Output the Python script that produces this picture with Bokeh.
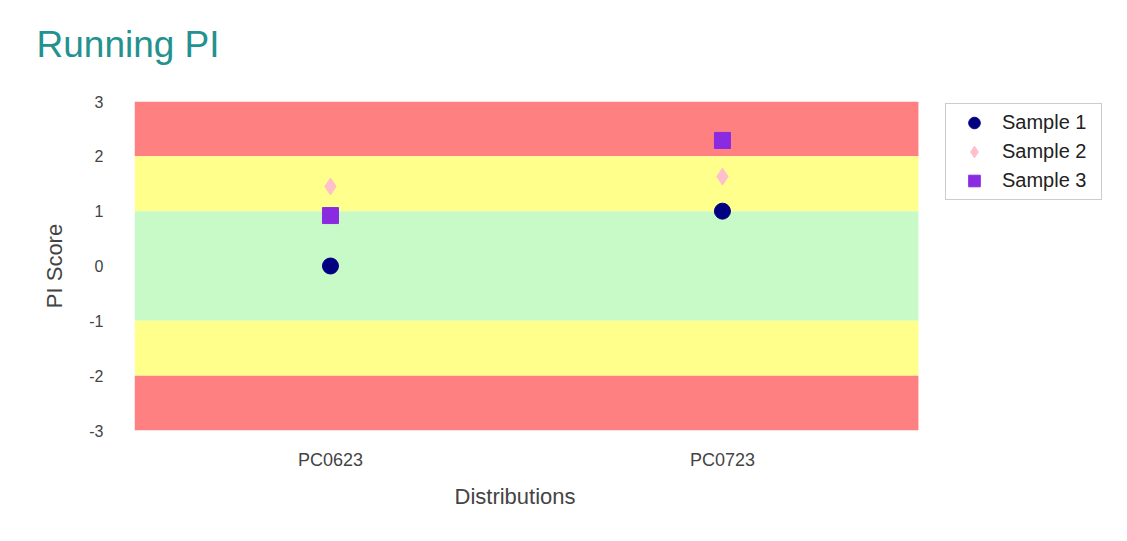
from bokeh.plotting import figure
from bokeh.models import (Range1d, BoxAnnotation, Legend, LegendItem,
                          FixedTicker, Title)
from bokeh.embed import file_html
from bokeh.resources import INLINE

# ---- data ----
distributions = ["PC0623", "PC0723"]
sample1 = [0.0, 1.0]
sample2 = [1.45, 1.63]
sample3 = [0.92, 2.29]
series_names = ["Sample 1", "Sample 2", "Sample 3"]
band_bottoms = [2, 1, -1, -2, -3]
band_tops = [3, 2, 1, -1, -2]
band_colors = ["#ff8080", "#ffff8c", "#c8fac8", "#ffff8c", "#ff8080"]
y_ticks = [-3, -2, -1, 0, 1, 2, 3]
y_tick_labels = ["-3", "-2", "-1", "0", "1", "2", "3"]

# category slots: each distribution occupies one unit, centred at i + 0.5
x_pos = [i + 0.5 for i in range(len(distributions))]
n_cat = len(distributions)

FONT = "Liberation Sans"

p = figure(frame_width=976, frame_height=329,
           x_range=Range1d(0, 2.49),
           y_range=Range1d(-3, 3),
           output_backend="svg", toolbar_location=None,
           min_border_left=134, min_border_right=0,
           min_border_top=101, min_border_bottom=110)

p.outline_line_color = None
p.xgrid.visible = False
p.ygrid.visible = False

# spacer between title and plot area (panels stack outward from the frame)
p.add_layout(Title(text=" ", text_font_size="10px", standoff=19), "above")

# title
p.title.text = "Running PI"
p.title.text_font = FONT
p.title.text_font_size = "37px"
p.title.text_font_style = "normal"
p.title.text_color = "#23918f"
p.title.align = "left"
p.title.offset = -98
p.title.standoff = 10

# bands (span the category area only)
for b, t, c in zip(band_bottoms, band_tops, band_colors):
    p.add_layout(BoxAnnotation(left=0, right=n_cat, bottom=b, top=t,
                               fill_color=c, fill_alpha=1.0,
                               line_alpha=0, level="underlay"))

# series
r1 = p.scatter(x=x_pos, y=sample1, marker="circle", size=16,
               fill_color="#000080", line_color="#000080")
r2 = p.scatter(x=x_pos, y=sample2, marker="diamond", size=17,
               fill_color="#ffc0cb", line_color="#ffc0cb")
r3 = p.scatter(x=x_pos, y=sample3, marker="square", size=16,
               fill_color="#8a2be2", line_color="#8a2be2")

legend = Legend(items=[LegendItem(label=series_names[0], renderers=[r1]),
                       LegendItem(label=series_names[1], renderers=[r2]),
                       LegendItem(label=series_names[2], renderers=[r3])],
                location=(811, 230))
legend.label_text_font = FONT
legend.label_text_font_size = "20px"
legend.label_text_color = "#222222"
legend.border_line_color = "#999999"
legend.border_line_width = 1.5
legend.padding = 4
legend.spacing = 0
legend.label_height = 29
legend.glyph_height = 29
legend.glyph_width = 48
legend.label_width = 95
legend.label_standoff = 4
legend.margin = 0
p.add_layout(legend, "center")

# axes
for ax in (p.xaxis[0], p.yaxis[0]):
    ax.axis_line_color = None
    ax.major_tick_line_color = None
    ax.minor_tick_line_color = None
    ax.major_label_text_font = FONT
    ax.major_label_text_color = "#444444"
    ax.axis_label_text_font = FONT
    ax.axis_label_text_font_style = "normal"
    ax.axis_label_text_color = "#444444"
    ax.axis_label_text_font_size = "22px"

p.yaxis[0].ticker = FixedTicker(ticks=y_ticks)
p.yaxis[0].major_label_overrides = dict(zip(y_ticks, y_tick_labels))
p.yaxis[0].major_label_text_font_size = "16px"
p.yaxis[0].major_label_standoff = 25
p.yaxis[0].axis_label = "PI Score"
p.yaxis[0].axis_label_standoff = 19

p.xaxis[0].ticker = FixedTicker(ticks=x_pos)
p.xaxis[0].major_label_overrides = dict(zip(x_pos, distributions))
p.xaxis[0].major_label_text_font_size = "18px"
p.xaxis[0].major_label_standoff = 13

# x-axis title, centred under the category area
p.add_layout(Title(text="Distributions", text_font=FONT, text_font_size="22px",
                   text_font_style="normal", text_color="#444444",
                   align="left", offset=320, standoff=19), "below")

open("out.html", "w").write(file_html(p, INLINE))
